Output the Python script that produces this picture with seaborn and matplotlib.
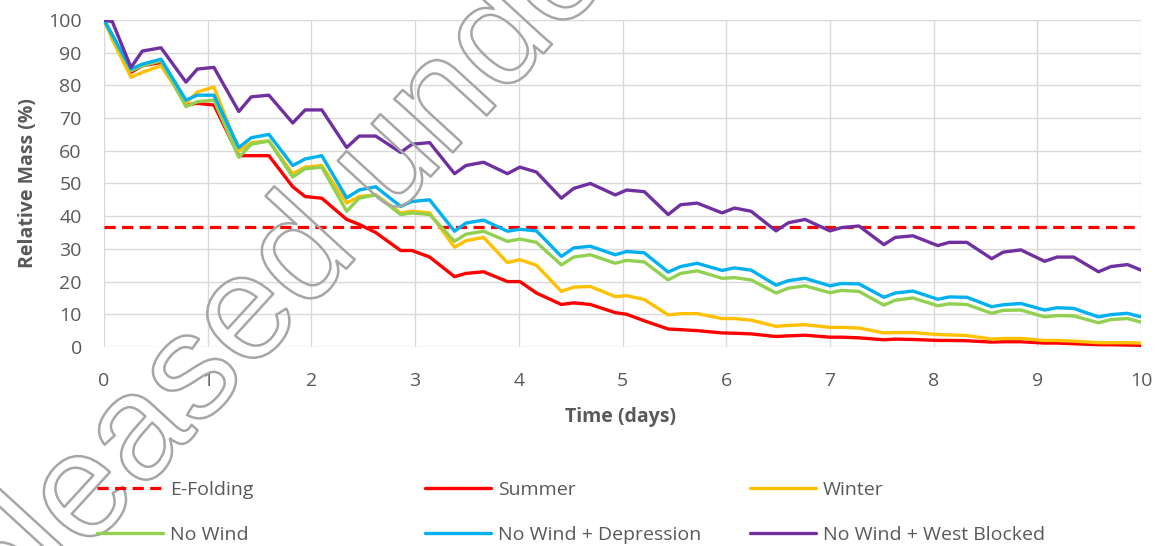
import matplotlib
matplotlib.use("Agg")
import matplotlib.pyplot as plt
import matplotlib.patheffects as pe
import numpy as np
import pandas as pd
import seaborn as sns

# time axis (days), points picked at the tidal minima / plateau edges
time = [0.0, 0.08,
        0.26, 0.37, 0.55, 0.79, 0.90, 1.06, 1.30, 1.42, 1.59,
        1.82, 1.94, 2.10, 2.34, 2.46, 2.62, 2.86, 2.97, 3.14,
        3.38, 3.49, 3.66, 3.89, 4.01, 4.17, 4.41, 4.53, 4.69,
        4.93, 5.04, 5.21, 5.44, 5.56, 5.72, 5.96, 6.08, 6.24,
        6.48, 6.60, 6.76, 7.00, 7.11, 7.28, 7.52, 7.63, 7.80,
        8.04, 8.15, 8.32, 8.56, 8.67, 8.84, 9.07, 9.19, 9.35,
        9.59, 9.71, 9.87, 10.0]

summer = [100, 95,
          84, 86, 87, 74, 74.5, 74, 58.5, 58.5, 58.5,
          49, 46, 45.5, 39, 37.5, 35, 29.5, 29.5, 27.5,
          21.5, 22.5, 23, 20, 20, 16.5, 13, 13.5, 13,
          10.5, 10, 8, 5.5, 5.3, 5, 4.3, 4.2, 4,
          3.2, 3.4, 3.6, 3, 3, 2.8, 2.2, 2.4, 2.3,
          2, 2, 1.9, 1.5, 1.6, 1.6, 1.2, 1.2, 1.0,
          0.7, 0.7, 0.6, 0.5]

winter = [100, 94,
          82.5, 84, 86, 74.5, 78, 79.5, 60, 62.5, 63,
          53, 55, 55.5, 44, 46, 46.5, 41, 41.5, 41,
          30.5, 32.5, 33.5, 25.8, 26.7, 25, 17, 18.3, 18.5,
          15.4, 15.7, 14.5, 9.8, 10.2, 10.2, 8.7, 8.7, 8.2,
          6.3, 6.6, 6.8, 6.0, 6.0, 5.8, 4.3, 4.4, 4.4,
          3.8, 3.7, 3.5, 2.4, 2.6, 2.6, 2.0, 2.0, 1.8,
          1.3, 1.3, 1.3, 1.2]

no_wind = [100, 95,
           84.5, 86, 87.5, 73.5, 75, 75.5, 58, 62, 63,
           52, 54.5, 55, 41.5, 45.5, 46.5, 40.5, 41, 40.5,
           32.3, 34.5, 35.4, 32.3, 33, 32, 25.1, 27.5, 28.2,
           25.6, 26.5, 26, 20.5, 22.5, 23.3, 21, 21.2, 20.5,
           16.5, 18, 18.7, 16.6, 17.3, 17, 12.8, 14.3, 15,
           12.6, 13.2, 13, 10.3, 11.2, 11.3, 9.2, 9.6, 9.5,
           7.4, 8.4, 8.7, 7.6]

depression = [100, 95.5,
              85, 86.5, 88, 75.5, 77, 77, 61, 64, 65,
              55.5, 57.5, 58.5, 45.6, 48, 49, 43, 44.5, 45,
              35.4, 37.9, 38.8, 35.4, 36, 35.5, 27.7, 30.3, 30.8,
              28.2, 29.2, 28.8, 22.9, 24.6, 25.6, 23.4, 24.2, 23.5,
              18.9, 20.3, 21, 18.7, 19.4, 19.3, 15.2, 16.5, 17.1,
              14.6, 15.3, 15.2, 12.3, 12.9, 13.3, 11.3, 12, 11.8,
              9.2, 9.9, 10.3, 9.2]

west_blocked = [100, 99.5,
                85.5, 90.5, 91.5, 81, 85, 85.5, 72, 76.5, 77,
                68.5, 72.5, 72.5, 61, 64.5, 64.5, 59.5, 62, 62.5,
                53, 55.5, 56.5, 53, 55, 53.5, 45.5, 48.5, 50,
                46.5, 48, 47.5, 40.5, 43.5, 44, 41, 42.5, 41.5,
                35.5, 38, 39, 35.5, 36.5, 37, 31.3, 33.5, 34,
                31, 32, 32, 27, 29, 29.7, 26.2, 27.5, 27.5,
                23, 24.6, 25.2, 23.5]

efold_time = [0, 10]
efold = [36.8, 36.8]

cases = ["Summer", "Winter", "No Wind", "No Wind + Depression",
         "No Wind + West Blocked"]
colors = ["#FF0000", "#FFC000", "#92D050", "#00B0F0", "#7030A0"]

df = pd.DataFrame({
    "Time": time * 5,
    "Mass": summer + winter + no_wind + depression + west_blocked,
    "Case": np.repeat(cases, len(time)),
})

sns.set_style("whitegrid")
plt.rcParams["font.family"] = ["Open Sans", "DejaVu Sans"]

fig = plt.figure(figsize=(11.66, 5.46), dpi=100)
ax = fig.add_axes([0.0892, 0.3645, 0.8894, 0.5989])

# e-folding reference (1/e)
sns.lineplot(x=efold_time, y=efold, ax=ax, color="#FF0000",
             linewidth=2.3, dashes=False)
ax.lines[0].set_dashes([3.5, 2.0])

sns.lineplot(data=df, x="Time", y="Mass", hue="Case", hue_order=cases,
             palette=colors, linewidth=2.4, legend=False, ax=ax)

ax.set_xlim(0, 10)
ax.set_ylim(0, 100)
ax.set_xticks(range(0, 11))
ax.set_yticks(range(0, 101, 10))
ax.grid(True, color="#D9D9D9", linewidth=1.0)
for s in ax.spines.values():
    s.set_visible(False)
ax.tick_params(length=0, labelsize=14, labelcolor="#595959")
ax.tick_params(axis="x", pad=18)
ax.tick_params(axis="y", pad=16)

ax.set_xlabel("Time (days)", fontsize=14, fontweight="bold", color="#595959")
ax.set_ylabel("Relative Mass (%)", fontsize=14, fontweight="bold", color="#595959")
ax.xaxis.set_label_coords(0.4976, -0.183)
ax.yaxis.set_label_coords(-0.064, 0.5)

# legend: three columns placed by hand (Excel layout)
hs = ax.lines
labels = ["E-Folding"] + cases
cols = [(0, 3), (1, 4), (2, 5)]
xpos = [97, 425, 750]
for (a, b), x in zip(cols, xpos):
    leg = fig.legend([hs[a], hs[b]], [labels[a], labels[b]],
                     loc="upper left", bbox_to_anchor=(x / 1166, 1 - 481 / 546),
                     frameon=False, borderpad=0, borderaxespad=0,
                     handlelength=3.4, handletextpad=0.35, labelspacing=1.4,
                     fontsize=14)
    for t in leg.get_texts():
        t.set_color("#595959")

# diagonal outlined watermark
fig.text(262 / 1166, 1 - 303 / 546, "Released under", rotation=47.5,
         fontsize=108, family="Liberation Sans", color="none",
         ha="center", va="center",
         path_effects=[pe.withStroke(linewidth=1.8, foreground="#A6A6A6")])

fig.savefig("out.png", dpi=100)
